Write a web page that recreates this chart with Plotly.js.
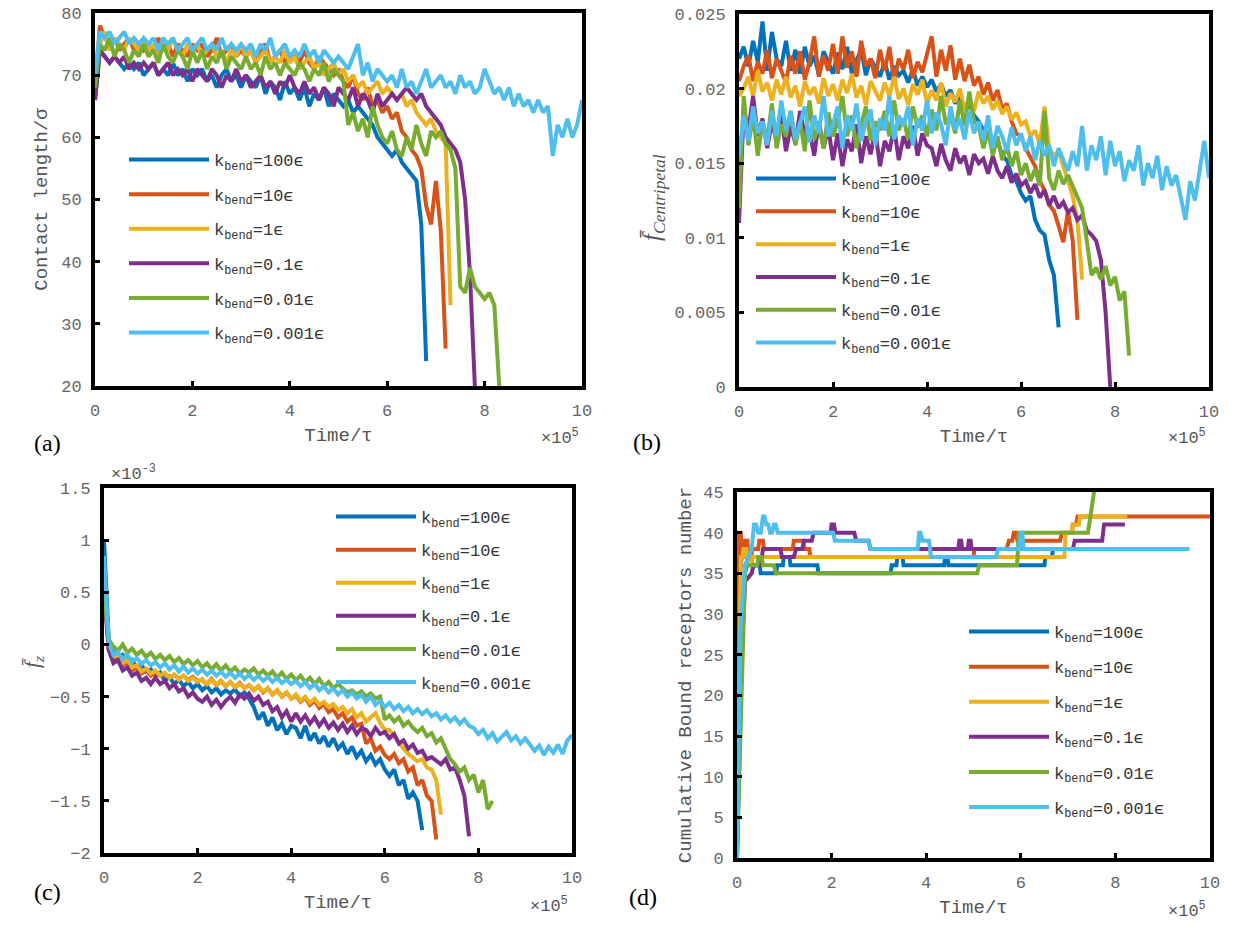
<!DOCTYPE html>
<html>
<head>
<meta charset="utf-8">
<script src="https://cdn.plot.ly/plotly-3.0.1.min.js"></script>
<style>html,body{margin:0;padding:0;background:#fff;}#chart{width:1239px;height:927px;}</style>
</head>
<body>
<div id="chart"></div>
<script>
// ---------- shared data ----------
const seriesNames = ['k<sub>bend</sub>=100ϵ','k<sub>bend</sub>=10ϵ','k<sub>bend</sub>=1ϵ','k<sub>bend</sub>=0.1ϵ','k<sub>bend</sub>=0.01ϵ','k<sub>bend</sub>=0.001ϵ'];
const seriesColors = ['#0072BD','#D95319','#EDB120','#7E2F8E','#77AC30','#4DBEEE'];
const xTicks = [0,2,4,6,8,10];

// time, in units of 1e5 tau (shared by panels a, b, c)
const time = [0,0.1,0.2,0.3,0.4,0.5,0.6,0.7,0.8,0.9,1,1.1,1.2,1.3,1.4,1.5,1.6,1.7,1.8,1.9,2,2.1,2.2,2.3,2.4,2.5,2.6,2.7,2.8,2.9,3,3.1,3.2,3.3,3.4,3.5,3.6,3.7,3.8,3.9,4,4.1,4.2,4.3,4.4,4.5,4.6,4.7,4.8,4.9,5,5.1,5.2,5.3,5.4,5.5,5.6,5.7,5.8,5.9,6,6.1,6.2,6.3,6.4,6.5,6.6,6.7,6.8,6.9,7,7.1,7.2,7.3,7.4,7.5,7.6,7.7,7.8,7.9,8,8.1,8.2,8.3,8.4,8.5,8.6,8.7,8.8,8.9,9,9.1,9.2,9.3,9.4,9.5,9.6,9.7,9.8,9.9,10];

// ---------- (a) contact length / sigma ----------
const contact_k100 = [66,74,73,72,73,72,71,72,71,72,70,71,72,70,71,70,72,70,71,69,71,70,71,69,70,68,70,71,69,70,68,70,69,68,70,67,69,68,66,69,67,68,66,68,65,67,66,68,65,67,66,65,66,64,65,64,63,62,60,59,58,57,58,56,55,54,53,46,24];
const contact_k10 = [68,78,76,75,76,74,75,76,74,75,74,75,74,76,74,75,73,75,74,73,75,74,75,73,74,76,73,74,75,73,74,73,74,72,74,75,72,73,74,72,73,73,72,74,72,71,73,72,71,70,71,69,68,70,67,66,68,65,66,64,65,63,64,61,60,58,57,55,49,46,53,45,26];
const contact_k1 = [70,75,77,74,76,75,74,76,75,74,75,74,75,73,75,74,76,74,73,75,74,75,73,74,75,73,74,72,74,73,75,73,74,72,73,74,72,73,72,74,72,73,71,72,73,71,72,70,71,72,70,71,69,70,68,69,67,68,69,67,68,67,66,67,65,66,64,63,62,63,61,60,59,33];
const contact_k01 = [66,74,73,72,73,72,73,71,72,71,72,71,72,70,71,72,70,71,70,71,69,71,70,69,71,70,68,70,69,71,69,70,68,69,70,68,69,67,69,68,70,68,67,69,67,68,66,68,67,65,68,67,66,68,65,67,66,64,67,65,66,67,66,67,68,67,66,67,65,64,63,62,60,59,58,56,50,38,20];
const contact_k001 = [68,75,74,76,73,75,74,72,74,73,75,73,74,72,75,73,72,74,73,71,74,72,74,71,73,72,74,71,73,72,71,73,71,72,70,73,71,72,70,72,71,70,72,71,69,71,70,72,69,71,70,69,62,64,61,63,60,65,62,60,59,61,58,57,60,58,62,59,57,61,60,61,59,58,55,36,35,39,36,35,34,35,33,20];
const contact_k0001 = [70,77,76,77,75,76,77,75,76,75,76,75,76,74,76,75,76,74,75,76,74,75,76,74,75,74,76,74,75,74,75,74,75,73,75,74,76,73,74,75,73,74,73,75,73,74,72,74,73,72,73,72,71,73,75,70,72,69,71,70,69,70,68,71,68,69,67,69,71,68,69,70,68,69,67,70,68,69,67,68,71,69,67,68,66,68,65,67,65,66,64,66,64,65,57,62,60,63,60,62,66];

// ---------- (b) centripetal force ----------
const fc_k100 = [0.022,0.0228,0.0215,0.0232,0.0218,0.0245,0.0212,0.0238,0.022,0.0215,0.0232,0.0212,0.0226,0.021,0.0228,0.0215,0.0222,0.0209,0.0225,0.0218,0.021,0.0224,0.0213,0.0228,0.021,0.0219,0.0226,0.0209,0.022,0.0214,0.0208,0.0218,0.0206,0.0215,0.0209,0.0212,0.0204,0.0213,0.0202,0.0208,0.0201,0.0206,0.0198,0.0203,0.0195,0.0199,0.019,0.0195,0.0186,0.019,0.0182,0.0178,0.0172,0.017,0.0162,0.0165,0.0155,0.0152,0.0142,0.0138,0.013,0.0125,0.0128,0.0112,0.0105,0.0102,0.0085,0.0075,0.004];
const fc_k10 = [0.0205,0.0215,0.0222,0.0205,0.0218,0.021,0.0226,0.0207,0.022,0.0212,0.0204,0.0222,0.021,0.0225,0.0206,0.0218,0.0235,0.0208,0.0222,0.0212,0.023,0.021,0.0235,0.0214,0.0225,0.0208,0.0232,0.0215,0.022,0.0207,0.0226,0.0212,0.0228,0.0205,0.022,0.0213,0.0226,0.0207,0.0218,0.0211,0.0222,0.0235,0.0208,0.0226,0.0212,0.0229,0.0206,0.022,0.0205,0.0216,0.0202,0.0208,0.0196,0.0204,0.0192,0.0199,0.0186,0.019,0.0178,0.017,0.0168,0.016,0.0154,0.0148,0.0138,0.0132,0.0122,0.0118,0.0108,0.0097,0.0118,0.0098,0.0045];
const fc_k1 = [0.0195,0.02,0.0208,0.0195,0.0212,0.0198,0.0204,0.0192,0.0206,0.0196,0.0208,0.0194,0.0202,0.0188,0.0205,0.0196,0.0201,0.019,0.0207,0.0195,0.0203,0.0192,0.0206,0.0197,0.021,0.0194,0.0202,0.0189,0.0205,0.0198,0.0192,0.0204,0.0195,0.0208,0.0193,0.02,0.0189,0.0203,0.0196,0.0206,0.019,0.0199,0.0192,0.0204,0.0188,0.0197,0.0191,0.02,0.0186,0.0193,0.0185,0.0198,0.019,0.0195,0.0186,0.0192,0.0183,0.0188,0.0179,0.0184,0.0176,0.0178,0.0168,0.0172,0.0163,0.0188,0.016,0.0155,0.0158,0.0148,0.0138,0.0128,0.0112,0.0072];
const fc_k01 = [0.011,0.0185,0.0172,0.0195,0.0168,0.018,0.016,0.0178,0.0165,0.0182,0.0158,0.0175,0.0163,0.0185,0.0168,0.0172,0.0155,0.0178,0.016,0.0174,0.0152,0.017,0.0148,0.0166,0.0158,0.0176,0.015,0.0168,0.0156,0.0172,0.0148,0.0165,0.0158,0.0174,0.0152,0.0168,0.016,0.0175,0.0155,0.017,0.0162,0.016,0.0148,0.0163,0.0152,0.0145,0.016,0.015,0.0155,0.0142,0.0156,0.015,0.0153,0.0143,0.0155,0.0145,0.014,0.0148,0.0137,0.0143,0.0135,0.0138,0.013,0.0136,0.0127,0.0132,0.0122,0.0128,0.012,0.0124,0.0117,0.012,0.0112,0.0115,0.0105,0.0102,0.0098,0.0085,0.005,0.0];
const fc_k001 = [0.012,0.0195,0.0162,0.0182,0.0155,0.0178,0.0165,0.019,0.016,0.0176,0.0168,0.0185,0.0162,0.0178,0.0158,0.0192,0.0166,0.0175,0.016,0.0184,0.0168,0.0178,0.0195,0.0168,0.0182,0.016,0.0176,0.0188,0.0165,0.0178,0.0172,0.0185,0.0168,0.0192,0.0172,0.018,0.0166,0.0188,0.0174,0.0182,0.0168,0.0186,0.0172,0.0195,0.0176,0.0182,0.017,0.0192,0.0175,0.0198,0.0178,0.0175,0.016,0.0172,0.0155,0.0168,0.0152,0.0162,0.0148,0.0158,0.0142,0.015,0.0138,0.0146,0.0135,0.0185,0.014,0.0132,0.0145,0.0136,0.0142,0.0135,0.0128,0.012,0.0098,0.0075,0.008,0.0072,0.0081,0.0068,0.0074,0.0058,0.0064,0.0021];
const fc_k0001 = [0.0155,0.0182,0.0165,0.0188,0.017,0.0178,0.0162,0.0185,0.0168,0.0192,0.0172,0.0185,0.0166,0.0178,0.0188,0.0164,0.0182,0.017,0.0195,0.0168,0.0176,0.0188,0.016,0.0182,0.0172,0.019,0.0165,0.0178,0.0186,0.0162,0.018,0.0172,0.0195,0.0166,0.0182,0.0175,0.0188,0.0162,0.018,0.0172,0.0192,0.017,0.0184,0.0176,0.0162,0.0188,0.0172,0.018,0.0166,0.0185,0.017,0.0178,0.0165,0.0182,0.016,0.0175,0.0168,0.0158,0.0174,0.0162,0.017,0.0158,0.0168,0.0152,0.0165,0.0155,0.0162,0.0148,0.016,0.0152,0.0145,0.0158,0.0148,0.0175,0.0145,0.0162,0.0152,0.0168,0.0142,0.0165,0.0148,0.0158,0.0138,0.0152,0.0145,0.0162,0.0135,0.015,0.014,0.0155,0.0132,0.0148,0.0135,0.0142,0.0128,0.0112,0.0138,0.0125,0.0145,0.0165,0.014];

// ---------- (c) f_z, in units of 1e-3 ----------
const fz_k100 = [1.0,0.05,-0.08,-0.12,-0.1,-0.18,-0.15,-0.22,-0.2,-0.26,-0.24,-0.3,-0.27,-0.35,-0.31,-0.38,-0.34,-0.4,-0.36,-0.42,-0.38,-0.44,-0.4,-0.46,-0.42,-0.48,-0.44,-0.47,-0.43,-0.5,-0.46,-0.52,-0.6,-0.72,-0.65,-0.78,-0.7,-0.82,-0.76,-0.86,-0.78,-0.8,-0.9,-0.78,-0.92,-0.85,-0.95,-0.88,-0.98,-0.9,-1.0,-0.95,-1.05,-0.98,-1.08,-1.02,-1.12,-1.06,-1.15,-1.1,-1.2,-1.26,-1.2,-1.35,-1.3,-1.48,-1.42,-1.5,-1.78];
const fz_k10 = [0.6,-0.05,-0.15,-0.12,-0.2,-0.17,-0.25,-0.22,-0.28,-0.25,-0.3,-0.27,-0.3,-0.28,-0.32,-0.29,-0.33,-0.3,-0.34,-0.31,-0.35,-0.34,-0.38,-0.33,-0.39,-0.35,-0.4,-0.36,-0.41,-0.37,-0.42,-0.39,-0.44,-0.4,-0.46,-0.42,-0.48,-0.44,-0.5,-0.46,-0.52,-0.49,-0.55,-0.51,-0.58,-0.54,-0.61,-0.57,-0.65,-0.62,-0.7,-0.66,-0.74,-0.7,-0.78,-0.76,-0.95,-0.9,-1.02,-0.98,-1.06,-1.1,-1.05,-1.14,-1.1,-1.22,-1.18,-1.35,-1.3,-1.45,-1.5,-1.87];
const fz_k1 = [0.7,-0.02,-0.12,-0.1,-0.18,-0.15,-0.22,-0.2,-0.26,-0.23,-0.28,-0.25,-0.3,-0.27,-0.32,-0.29,-0.34,-0.3,-0.35,-0.32,-0.36,-0.33,-0.38,-0.34,-0.39,-0.35,-0.4,-0.36,-0.41,-0.38,-0.42,-0.39,-0.44,-0.4,-0.45,-0.42,-0.48,-0.44,-0.5,-0.46,-0.52,-0.48,-0.54,-0.5,-0.56,-0.52,-0.58,-0.55,-0.6,-0.57,-0.63,-0.6,-0.66,-0.62,-0.7,-0.66,-0.74,-0.7,-0.66,-0.75,-0.82,-0.82,-0.88,-0.95,-1.0,-1.05,-1.08,-1.12,-1.1,-1.18,-1.2,-1.3,-1.63];
const fz_k01 = [0.5,-0.05,-0.18,-0.15,-0.25,-0.22,-0.3,-0.27,-0.35,-0.32,-0.38,-0.32,-0.38,-0.35,-0.42,-0.38,-0.45,-0.42,-0.5,-0.46,-0.52,-0.55,-0.5,-0.58,-0.53,-0.6,-0.54,-0.5,-0.56,-0.48,-0.52,-0.47,-0.54,-0.5,-0.58,-0.55,-0.64,-0.6,-0.7,-0.64,-0.74,-0.66,-0.74,-0.68,-0.76,-0.7,-0.78,-0.72,-0.8,-0.75,-0.82,-0.76,-0.84,-0.78,-0.86,-0.8,-0.82,-0.88,-0.8,-0.86,-0.84,-0.9,-0.86,-0.95,-0.92,-1.0,-0.96,-1.04,-1.02,-1.1,-1.08,-1.12,-1.15,-1.1,-1.2,-1.18,-1.3,-1.45,-1.84];
const fz_k001 = [0.5,0.05,-0.02,-0.06,0.0,-0.08,-0.04,-0.1,-0.06,-0.12,-0.08,-0.14,-0.1,-0.15,-0.11,-0.17,-0.13,-0.19,-0.15,-0.2,-0.16,-0.22,-0.18,-0.24,-0.19,-0.25,-0.2,-0.26,-0.22,-0.28,-0.24,-0.27,-0.23,-0.29,-0.25,-0.3,-0.26,-0.32,-0.27,-0.33,-0.29,-0.34,-0.3,-0.36,-0.32,-0.38,-0.33,-0.4,-0.36,-0.42,-0.38,-0.42,-0.46,-0.44,-0.48,-0.45,-0.5,-0.47,-0.52,-0.5,-0.72,-0.68,-0.74,-0.7,-0.78,-0.74,-0.8,-0.84,-0.8,-0.88,-0.85,-0.94,-0.9,-1.0,-1.1,-1.15,-1.22,-1.18,-1.3,-1.25,-1.42,-1.3,-1.58,-1.5];
const fz_k0001 = [0.85,0.02,-0.1,-0.07,-0.14,-0.1,-0.17,-0.13,-0.19,-0.15,-0.2,-0.17,-0.22,-0.18,-0.24,-0.2,-0.26,-0.21,-0.27,-0.23,-0.28,-0.24,-0.29,-0.25,-0.3,-0.26,-0.31,-0.27,-0.32,-0.28,-0.33,-0.29,-0.34,-0.3,-0.35,-0.31,-0.36,-0.32,-0.37,-0.34,-0.38,-0.35,-0.4,-0.36,-0.42,-0.38,-0.44,-0.4,-0.46,-0.42,-0.48,-0.44,-0.5,-0.46,-0.52,-0.48,-0.55,-0.5,-0.58,-0.54,-0.6,-0.56,-0.62,-0.58,-0.64,-0.6,-0.66,-0.62,-0.67,-0.63,-0.69,-0.66,-0.72,-0.68,-0.74,-0.7,-0.76,-0.72,-0.78,-0.8,-0.86,-0.82,-0.9,-0.85,-0.93,-0.88,-0.84,-0.92,-0.88,-0.95,-0.9,-0.96,-1.02,-0.97,-1.06,-0.98,-1.04,-0.96,-1.05,-0.92,-0.87];

// ---------- (d) cumulative bound receptors (time, count) ----------
const bound_t_k100 = [0,0.06,0.1,0.3,0.32,0.48,0.5,0.83,0.85,0.97,0.99,1.11,1.13,1.7,1.72,3.25,3.27,3.37,3.39,3.5,3.52,4.38,4.4,4.45,4.47,6.5,6.52,6.66,6.68,6.8];
const bound_n_k100 = [0,35,37,37,36,36,35,35,36,36,37,37,36,36,35,35,36,36,37,37,36,36,37,37,36,36,37,37,38,38];
const bound_t_k10 = [0,0.03,0.08,0.1,0.15,0.17,0.22,0.24,0.3,0.32,0.45,0.47,0.55,0.57,1.18,1.2,1.4,1.42,1.53,1.55,5.0,5.02,5.7,5.75,5.82,5.85,5.9,5.93,6.83,6.87,7.08,7.1,7.17,7.2,10];
const bound_n_k10 = [0,40,40,37,37,39,39,37,37,38,38,39,39,38,38,39,39,38,38,37,37,38,38,39,39,40,40,39,39,40,40,41,41,42,42];
const bound_t_k1 = [0,0.08,0.12,0.14,0.2,0.22,0.3,0.32,6.92,6.95,7.08,7.1,7.23,7.25,8.25];
const bound_n_k1 = [0,37,37,38,38,36,36,37,37,40,40,41,41,42,42];
const bound_t_k01 = [0,0.1,0.17,0.31,0.35,0.5,0.55,0.92,0.95,1.2,1.25,1.38,1.42,1.58,1.62,1.98,2.0,2.05,2.08,2.48,2.52,2.78,2.82,4.68,4.7,4.74,4.76,4.88,4.9,4.94,4.96,7.1,7.14,7.72,7.76,8.2];
const bound_n_k01 = [0,25,34,35,36,36,38,38,37,37,38,38,39,39,40,40,41,41,40,40,39,39,38,38,39,39,38,38,39,39,38,38,39,39,41,41];
const bound_t_k001 = [0,0.17,0.22,0.43,0.45,0.52,0.55,0.78,0.82,5.08,5.12,5.92,5.96,7.42,7.6];
const bound_n_k001 = [0,35,36,36,37,37,36,36,35,35,36,36,40,40,47];
const bound_t_k0001 = [0,0.07,0.17,0.31,0.36,0.4,0.45,0.5,0.55,0.58,0.62,0.66,0.7,0.74,0.78,0.82,0.86,2.03,2.07,2.78,2.82,3.82,3.85,3.88,3.92,4.06,4.1,5.48,5.52,5.97,6.0,6.03,6.06,9.57];
const bound_n_k0001 = [0,28,36,38,41,41,40,40,42,42,41,41,40,40,41,41,40,40,39,39,38,38,40,40,39,39,37,37,38,38,40,40,38,38];

// ---------- build traces ----------
const panelA = [contact_k100, contact_k10, contact_k1, contact_k01, contact_k001, contact_k0001];
const panelB = [fc_k100, fc_k10, fc_k1, fc_k01, fc_k001, fc_k0001];
const panelC = [fz_k100, fz_k10, fz_k1, fz_k01, fz_k001, fz_k0001];
const panelDt = [bound_t_k100, bound_t_k10, bound_t_k1, bound_t_k01, bound_t_k001, bound_t_k0001];
const panelDn = [bound_n_k100, bound_n_k10, bound_n_k1, bound_n_k01, bound_n_k001, bound_n_k0001];

const LW = 4;
const traces = [];
function addTrace(x, y, i, ax, leg, grp) {
  traces.push({
    type: 'scatter', mode: 'lines', x: x, y: y,
    xaxis: 'x' + ax, yaxis: 'y' + ax,
    name: seriesNames[i], legend: leg, legendgroup: grp + i,
    line: {color: seriesColors[i], width: LW},
    hoverinfo: 'skip'
  });
}
panelA.forEach((v, i) => addTrace(time.slice(0, v.length), v, i, '', 'legend', 'a'));
panelB.forEach((v, i) => addTrace(time.slice(0, v.length), v, i, '2', 'legend2', 'b'));
panelC.forEach((v, i) => addTrace(time.slice(0, v.length), v, i, '3', 'legend3', 'c'));
panelDt.forEach((t, i) => addTrace(t, panelDn[i], i, '4', 'legend4', 'd'));

// ---------- layout ----------
const tickFont = {family: 'Liberation Mono', size: 17, color: '#666'};
const titleFont = {family: 'Liberation Mono', size: 19, color: '#555'};
function xAxis(domain, anchor) {
  return {
    domain: domain, anchor: anchor, range: [0, 10], tickvals: xTicks,
    showline: true, linecolor: '#000', linewidth: 4, mirror: true,
    ticks: 'inside', ticklen: 5, tickwidth: 3, tickcolor: '#000',
    showgrid: false, zeroline: false, tickfont: tickFont, ticklabelstandoff: 6,
    title: {text: 'Time/τ', font: titleFont, standoff: 8},
    fixedrange: true
  };
}
function yAxis(domain, anchor, range, dtick, title, tfont, standoff) {
  return {
    domain: domain, anchor: anchor, range: range, dtick: dtick, tick0: range[0],
    showline: true, linecolor: '#000', linewidth: 4, mirror: true,
    ticks: 'inside', ticklen: 5, tickwidth: 3, tickcolor: '#000',
    showgrid: false, zeroline: false, tickfont: tickFont, ticklabelstandoff: 6,
    title: {text: title, font: tfont, standoff: standoff},
    fixedrange: true
  };
}
function legendCfg(x, y, gap) {
  return {
    x: x, y: y, xanchor: 'left', yanchor: 'top', xref: 'paper', yref: 'paper',
    bgcolor: 'rgba(0,0,0,0)', borderwidth: 0,
    font: {family: 'Liberation Mono', size: 17, color: '#333'},
    itemwidth: 80, tracegroupgap: gap, itemclick: false, itemdoubleclick: false
  };
}
const W = 1239, H = 927;
const px = v => v / W, py = v => 1 - v / H;

const annFont = {family: 'Liberation Mono', size: 17, color: '#555'};
const labFont = {family: 'Liberation Serif', size: 24, color: '#000'};
function ann(text, x, y, font, angle) {
  return {text: text, x: px(x), y: py(y), xref: 'paper', yref: 'paper', showarrow: false, font: font, xanchor: 'center', yanchor: 'middle', textangle: angle || 0};
}

const layout = {
  width: W, height: H,
  margin: {l: 0, r: 0, t: 0, b: 0},
  paper_bgcolor: '#fff', plot_bgcolor: '#fff',
  showlegend: true,
  xaxis: xAxis([px(95), px(582)], 'y'),
  yaxis: yAxis([py(386), py(13)], 'x', [20, 80], 10, 'Contact length/σ', titleFont, 10),
  xaxis2: xAxis([px(739), px(1209)], 'y2'),
  yaxis2: yAxis([py(387), py(14)], 'x2', [0, 0.025], 0.005, '', titleFont, 8),
  xaxis3: xAxis([px(104), px(572)], 'y3'),
  yaxis3: yAxis([py(853), py(488)], 'x3', [-2, 1.5], 0.5, '', titleFont, 8),
  xaxis4: xAxis([px(737), px(1210)], 'y4'),
  yaxis4: yAxis([py(858), py(492)], 'x4', [0, 45], 5, 'Cumulative Bound receptors number', titleFont, 8),
  legend: legendCfg(px(124), py(142), 9.5),
  legend2: legendCfg(px(751), py(161), 7.7),
  legend3: legendCfg(px(331), py(499), 8),
  legend4: legendCfg(px(964), py(614), 10),
  annotations: [
    ann('<i>f̄</i><sub><i>Centripetal</i></sub>', 653, 197, {family: 'Liberation Serif', size: 25, color: '#555'}, -90),
    ann('<i>f̄</i><sub><i>z</i></sub>', 33, 662, {family: 'Liberation Serif', size: 22, color: '#555'}, -90),
    ann('(a)', 47, 443, labFont), ann('(b)', 647, 442, labFont),
    ann('(c)', 47, 892, labFont), ann('(d)', 643, 897, labFont),
    ann('×10<sup>5</sup>', 560, 437, annFont), ann('×10<sup>5</sup>', 1187, 437, annFont),
    ann('×10<sup>5</sup>', 549, 905, annFont), ann('×10<sup>5</sup>', 1187, 910, annFont),
    ann('×10<sup>-3</sup>', 133, 473, annFont)
  ]
};

Plotly.newPlot('chart', traces, layout, {displayModeBar: false, staticPlot: true});
</script>
</body>
</html>
